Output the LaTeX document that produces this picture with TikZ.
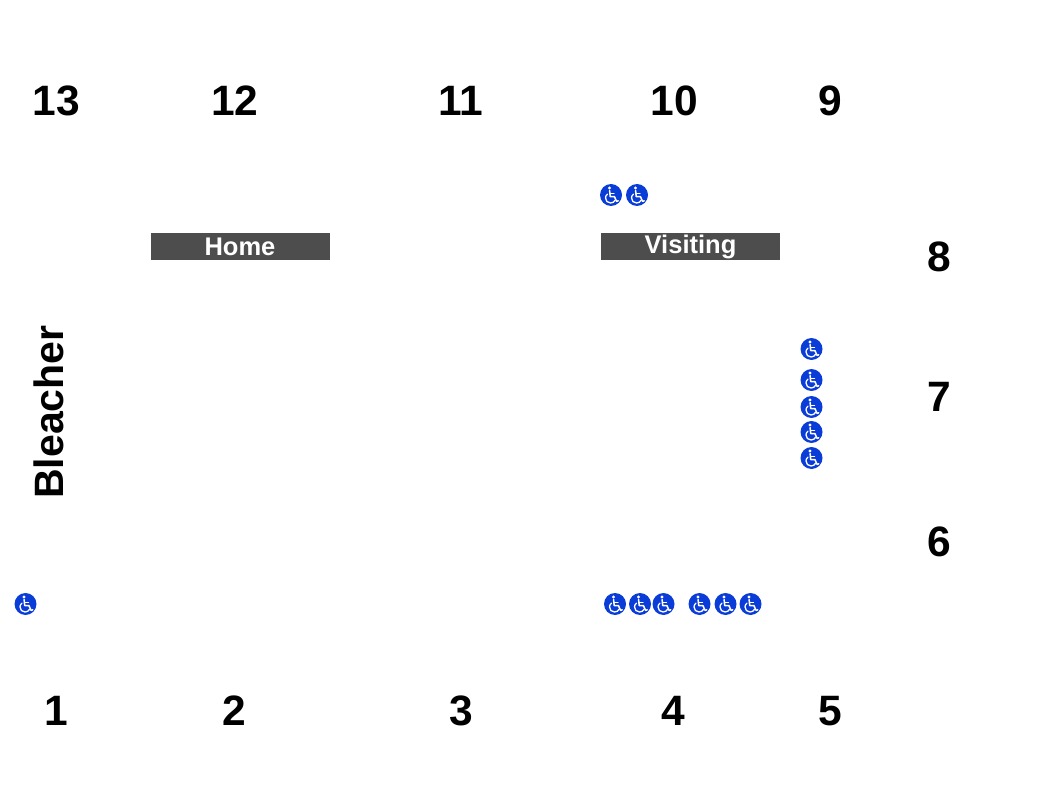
\documentclass[tikz,border=0pt]{standalone}
\usepackage{fontspec}
\setmainfont{Liberation Sans}
\definecolor{wblue}{RGB}{10,60,215}
\definecolor{bandgray}{RGB}{77,77,77}
\tikzset{
  num/.style={font=\fontsize{42.5}{46}\selectfont\bfseries,text=black,inner sep=0pt,anchor=center},
  band/.style={fill=bandgray,draw=none,minimum width=179pt,minimum height=27pt,inner sep=0pt,text=white,font=\fontsize{25.5}{25}\selectfont\bfseries},
  wheel/.pic={
    \fill[wblue] (0,0) circle (11);
    \fill[white] (-1.5,-7) circle (1.6);
    \draw[white,line width=1.5pt,line cap=round,line join=round] (-1.4,-4.4) -- (-0.8,1.6) -- (3.4,1.6) -- (5.6,6.4) -- (7.2,5.8);
    \draw[white,line width=1.1pt,line cap=round] (-1.1,-1.6) -- (3,-1.6);
    \draw[white,line width=1.3pt,line cap=round] (-3.6,-0.8) .. controls (-5,0.3) and (-5.5,1.7) .. (-5.5,3) .. controls (-5.5,5.8) and (-3.3,8) .. (-0.5,8) .. controls (1.7,8) and (3.4,6.8) .. (4.1,5.2);
  }
}
\begin{document}
\begin{tikzpicture}[x=1pt,y=-1pt]
\useasboundingbox (0,0) rectangle (1050,810);
\node[num] (n13) at (56.5,101) {13};
\node[num] (n12) at (235,101) {12};
\node[num] (n11) at (461,101) {11};
\node[num] (n10) at (674.5,101) {10};
\node[num] (n9) at (830,101) {9};
\node[num] (n8) at (939,257) {8};
\node[num] (n7) at (939,397) {7};
\node[num] (n6) at (939,542) {6};
\node[num] (n1) at (56,711) {1};
\node[num] (n2) at (234.5,711) {2};
\node[num] (n3) at (461.5,711) {3};
\node[num] (n4) at (673.5,711) {4};
\node[num] (n5) at (830,711) {5};
\node[num,font=\fontsize{41}{46}\selectfont\bfseries,rotate=90] (bleacher) at (49,412) {Bleacher};
\node[band] (home) at (240,246.5) {\raisebox{-1pt}{Home}};
\node[band] (visiting) at (690.5,246.5) {\raisebox{1pt}{Visiting}};
\foreach \x/\y in {611/195,637/195,811.5/349,811.5/380,811.5/407,811.5/432,811.5/458,25.5/604,615/604,640/604,663.5/604,699.5/604,725.5/604,750.5/604}
  \pic at (\x,\y) {wheel};
\end{tikzpicture}
\end{document}
